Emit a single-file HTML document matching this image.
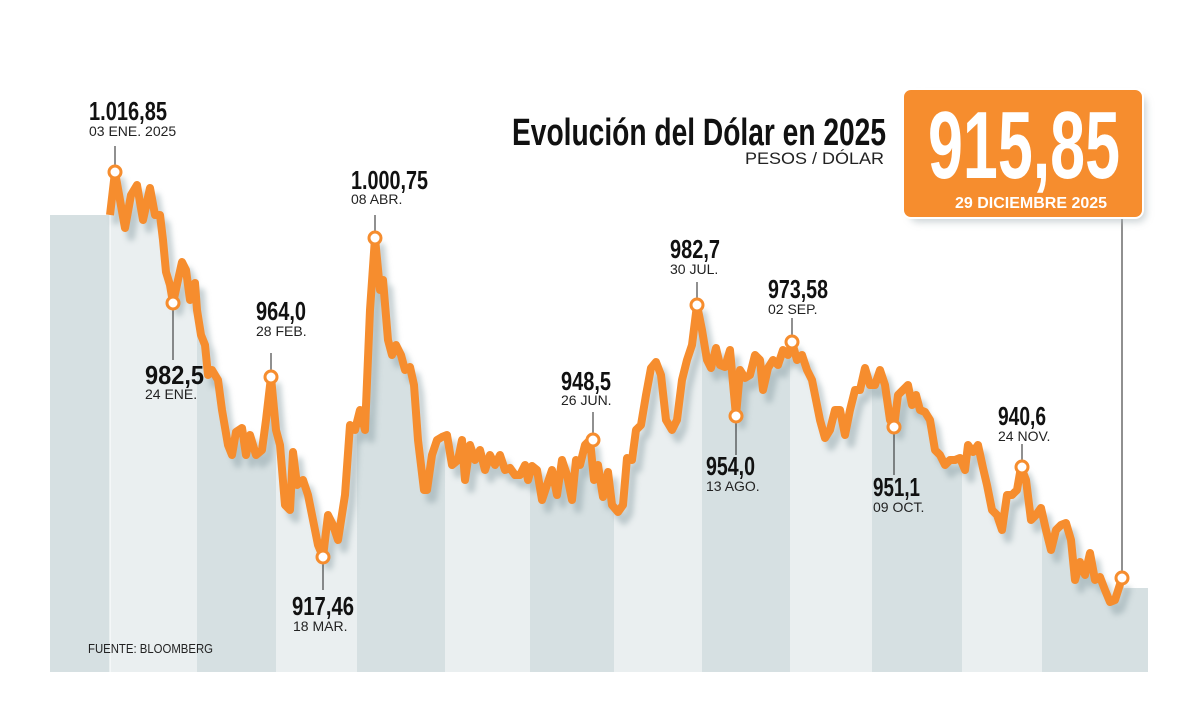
<!DOCTYPE html>
<html><head><meta charset="utf-8"><style>
html,body{margin:0;padding:0;background:#fff;}
svg{display:block;}
.v{font-family:"Liberation Sans Narrow","Liberation Sans",sans-serif;font-weight:bold;font-size:26px;fill:#111;}
.d{font-family:"Liberation Sans Narrow","Liberation Sans",sans-serif;font-size:14px;fill:#222;}
</style></head><body>
<svg width="1200" height="711" viewBox="0 0 1200 711" xmlns="http://www.w3.org/2000/svg">
<defs>
<filter id="bl" x="-5%" y="-5%" width="110%" height="110%"><feGaussianBlur stdDeviation="3"/></filter>
<filter id="bs" x="-10%" y="-10%" width="130%" height="140%"><feGaussianBlur stdDeviation="4"/></filter>
<polyline id="ln" points="110,215 115,172 120,200 125,228 131,195 137,185 143,220 150,188 155,215 160,215 163,240 166,272 170,285 173,303 178,280 182,262 186,270 190,300 195,283 197,310 201,335 205,345 208,375 212,370 218,380 222,410 228,445 232,455 236,432 242,428 246,455 250,435 256,455 262,450 266,420 271,377 276,430 280,445 285,505 290,510 293,452 297,485 303,480 308,495 313,520 318,545 323,557 328,515 333,525 338,540 345,495 350,425 355,430 360,410 365,430 370,310 375,238 380,290 383,280 388,340 392,355 396,345 401,355 405,370 410,367 414,385 418,440 424,490 427,490 432,455 437,440 442,437 447,435 452,465 458,460 462,440 465,480 470,445 475,460 480,450 485,470 490,455 495,465 500,455 505,470 510,468 515,475 520,475 525,465 528,480 532,466 537,470 542,500 547,485 552,470 557,495 562,460 567,475 572,500 576,460 580,465 585,445 590,440 594,480 598,465 603,497 608,472 612,505 618,512 623,505 627,458 632,460 636,430 641,425 646,395 651,368 656,362 661,375 666,420 672,430 677,420 682,380 687,360 692,345 697,305 702,330 707,360 711,368 716,348 720,365 725,367 730,350 736,416 740,370 745,378 750,375 755,355 760,360 763,390 768,368 773,360 778,365 783,350 788,355 792,342 797,360 802,355 807,370 812,380 816,400 820,420 825,438 830,430 835,410 840,410 845,435 850,410 855,390 860,390 865,368 870,385 875,385 880,370 885,385 890,420 894,427 898,395 903,390 908,385 912,405 916,395 920,410 925,412 930,420 935,450 940,455 945,465 950,460 955,460 960,458 965,470 968,445 973,452 978,445 983,468 987,485 992,510 997,515 1002,530 1007,495 1012,495 1017,490 1021,467 1026,480 1031,520 1036,515 1041,508 1046,530 1051,550 1056,530 1061,525 1066,523 1071,540 1075,580 1080,562 1085,575 1090,553 1095,580 1100,577 1105,590 1110,602 1115,600 1122,578"/>
<clipPath id="cp"><polygon points="50,215 110,215 115,172 120,200 125,228 131,195 137,185 143,220 150,188 155,215 160,215 163,240 166,272 170,285 173,303 178,280 182,262 186,270 190,300 195,283 197,310 201,335 205,345 208,375 212,370 218,380 222,410 228,445 232,455 236,432 242,428 246,455 250,435 256,455 262,450 266,420 271,377 276,430 280,445 285,505 290,510 293,452 297,485 303,480 308,495 313,520 318,545 323,557 328,515 333,525 338,540 345,495 350,425 355,430 360,410 365,430 370,310 375,238 380,290 383,280 388,340 392,355 396,345 401,355 405,370 410,367 414,385 418,440 424,490 427,490 432,455 437,440 442,437 447,435 452,465 458,460 462,440 465,480 470,445 475,460 480,450 485,470 490,455 495,465 500,455 505,470 510,468 515,475 520,475 525,465 528,480 532,466 537,470 542,500 547,485 552,470 557,495 562,460 567,475 572,500 576,460 580,465 585,445 590,440 594,480 598,465 603,497 608,472 612,505 618,512 623,505 627,458 632,460 636,430 641,425 646,395 651,368 656,362 661,375 666,420 672,430 677,420 682,380 687,360 692,345 697,305 702,330 707,360 711,368 716,348 720,365 725,367 730,350 736,416 740,370 745,378 750,375 755,355 760,360 763,390 768,368 773,360 778,365 783,350 788,355 792,342 797,360 802,355 807,370 812,380 816,400 820,420 825,438 830,430 835,410 840,410 845,435 850,410 855,390 860,390 865,368 870,385 875,385 880,370 885,385 890,420 894,427 898,395 903,390 908,385 912,405 916,395 920,410 925,412 930,420 935,450 940,455 945,465 950,460 955,460 960,458 965,470 968,445 973,452 978,445 983,468 987,485 992,510 997,515 1002,530 1007,495 1012,495 1017,490 1021,467 1026,480 1031,520 1036,515 1041,508 1046,530 1051,550 1056,530 1061,525 1066,523 1071,540 1075,580 1080,562 1085,575 1090,553 1095,580 1100,577 1105,590 1110,602 1115,600 1122,578 1124,588 1148,588 1148,672 50,672"/></clipPath>
</defs>
<g clip-path="url(#cp)">
<rect x="50" y="150" width="60" height="530" fill="#d6e0e2"/>
<rect x="110" y="150" width="87" height="530" fill="#eaeff0"/>
<rect x="197" y="150" width="79" height="530" fill="#d6e0e2"/>
<rect x="276" y="150" width="81" height="530" fill="#eaeff0"/>
<rect x="357" y="150" width="88" height="530" fill="#d6e0e2"/>
<rect x="445" y="150" width="85" height="530" fill="#eaeff0"/>
<rect x="530" y="150" width="84" height="530" fill="#d6e0e2"/>
<rect x="614" y="150" width="88" height="530" fill="#eaeff0"/>
<rect x="702" y="150" width="88" height="530" fill="#d6e0e2"/>
<rect x="790" y="150" width="82" height="530" fill="#eaeff0"/>
<rect x="872" y="150" width="90" height="530" fill="#d6e0e2"/>
<rect x="962" y="150" width="80" height="530" fill="#eaeff0"/>
<rect x="1042" y="150" width="106" height="530" fill="#d6e0e2"/>
<line x1="110" y1="150" x2="110" y2="672" stroke="#fff" stroke-width="1"/>
</g>
<use href="#ln" fill="none" stroke="#8fa3a8" stroke-width="8" stroke-linejoin="round" opacity="0.5" filter="url(#bl)" transform="translate(6,9)"/>
<use href="#ln" fill="none" stroke="#f68d2e" stroke-width="8" stroke-linejoin="round"/>
<g stroke="#222" stroke-width="1">
<line x1="115" y1="146" x2="115" y2="166"/>
<line x1="173" y1="309" x2="173" y2="360"/>
<line x1="271" y1="353" x2="271" y2="371"/>
<line x1="323" y1="563" x2="323" y2="590"/>
<line x1="375" y1="215" x2="375" y2="232"/>
<line x1="593" y1="412" x2="593" y2="434"/>
<line x1="697" y1="282" x2="697" y2="299"/>
<line x1="736" y1="422" x2="736" y2="455"/>
<line x1="792" y1="318" x2="792" y2="336"/>
<line x1="894" y1="433" x2="894" y2="475"/>
<line x1="1022" y1="444" x2="1022" y2="461"/>
<line x1="1122" y1="218" x2="1122" y2="572"/>
</g>
<g fill="#fff" stroke="#f68d2e" stroke-width="3">
<circle cx="115" cy="172" r="6"/><circle cx="173" cy="303" r="6"/><circle cx="271" cy="377" r="6"/>
<circle cx="323" cy="557" r="6"/><circle cx="375" cy="238" r="6"/><circle cx="593" cy="440" r="6"/>
<circle cx="697" cy="305" r="6"/><circle cx="736" cy="416" r="6"/><circle cx="792" cy="342" r="6"/>
<circle cx="894" cy="427" r="6"/><circle cx="1022" cy="467" r="6"/><circle cx="1122" cy="578" r="6"/>
</g>
<text class="v" x="89" y="120" textLength="78" lengthAdjust="spacingAndGlyphs">1.016,85</text><text class="d" x="89" y="136">03 ENE. 2025</text>
<text class="v" x="145" y="384" textLength="59" lengthAdjust="spacingAndGlyphs">982,5</text><text class="d" x="145" y="399">24 ENE.</text>
<text class="v" x="256" y="320" textLength="50" lengthAdjust="spacingAndGlyphs">964,0</text><text class="d" x="256" y="336">28 FEB.</text>
<text class="v" x="292" y="615" textLength="62" lengthAdjust="spacingAndGlyphs">917,46</text><text class="d" x="293" y="631">18 MAR.</text>
<text class="v" x="351" y="189" textLength="77" lengthAdjust="spacingAndGlyphs">1.000,75</text><text class="d" x="351" y="204">08 ABR.</text>
<text class="v" x="561" y="390" textLength="50" lengthAdjust="spacingAndGlyphs">948,5</text><text class="d" x="561" y="405">26 JUN.</text>
<text class="v" x="670" y="258" textLength="50" lengthAdjust="spacingAndGlyphs">982,7</text><text class="d" x="670" y="274">30 JUL.</text>
<text class="v" x="706" y="475" textLength="49" lengthAdjust="spacingAndGlyphs">954,0</text><text class="d" x="706" y="491">13 AGO.</text>
<text class="v" x="768" y="298" textLength="60" lengthAdjust="spacingAndGlyphs">973,58</text><text class="d" x="768" y="314">02 SEP.</text>
<text class="v" x="873" y="496" textLength="47" lengthAdjust="spacingAndGlyphs">951,1</text><text class="d" x="873" y="512">09 OCT.</text>
<text class="v" x="998" y="425" textLength="48" lengthAdjust="spacingAndGlyphs">940,6</text><text class="d" x="998" y="441">24 NOV.</text>
<text x="88" y="653" style="font-family:'Liberation Sans Narrow','Liberation Sans',sans-serif;font-size:13px;fill:#222" textLength="125" lengthAdjust="spacingAndGlyphs">FUENTE: BLOOMBERG</text>
<text x="512" y="145" textLength="374" lengthAdjust="spacingAndGlyphs" style="font-family:'Liberation Sans Narrow','Liberation Sans',sans-serif;font-weight:bold;font-size:38px;fill:#111">Evolución del Dólar en 2025</text>
<text x="745" y="164" textLength="139" lengthAdjust="spacingAndGlyphs" style="font-family:'Liberation Sans Narrow','Liberation Sans',sans-serif;font-size:17px;fill:#222">PESOS / DÓLAR</text>
<rect x="910" y="96" width="236" height="126" rx="8" fill="#a8b4b8" opacity="0.6" filter="url(#bs)"/>
<rect x="903" y="89" width="240" height="129" rx="8" fill="#f68d2e" stroke="#fff" stroke-width="2"/>
<text x="928" y="178" textLength="192" lengthAdjust="spacingAndGlyphs" style="font-family:'Liberation Sans Narrow','Liberation Sans',sans-serif;font-weight:bold;font-size:96px;fill:#fff">915,85</text>
<text x="1031" y="208" text-anchor="middle" style="font-family:'Liberation Sans',sans-serif;font-weight:bold;font-size:16px;fill:#fff">29 DICIEMBRE 2025</text>
</svg>
</body></html>
